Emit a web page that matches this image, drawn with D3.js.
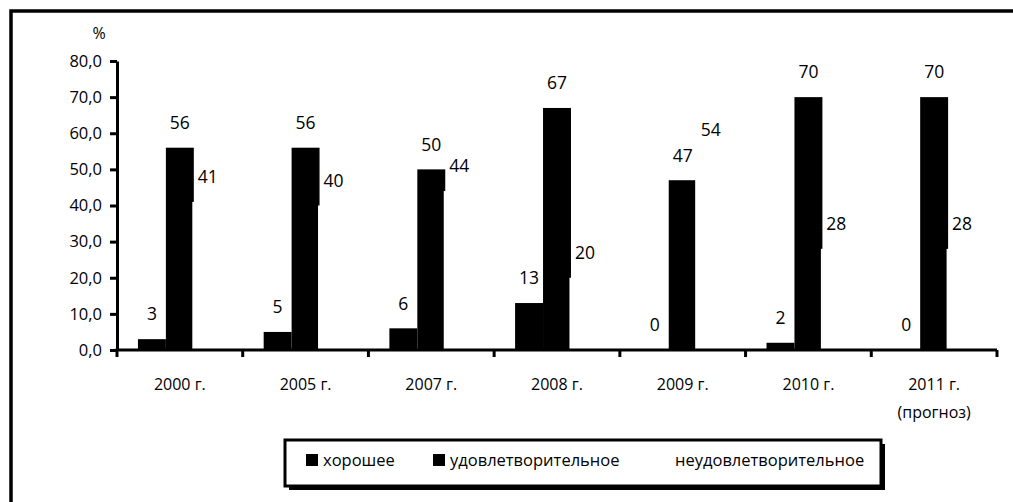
<!DOCTYPE html>
<html>
<head>
<meta charset="utf-8">
<script src="https://cdn.jsdelivr.net/npm/d3@7"></script>
<style>
  html, body { margin: 0; background: #fff; overflow: hidden; }
  svg { display: block; font-family: 'Open Sans', sans-serif; }
</style>
</head>
<body>
<svg class="chart" width="1013" height="502"></svg>
<script>
'use strict';

const years = ['2000 г.', '2005 г.', '2007 г.', '2008 г.', '2009 г.', '2010 г.', '2011 г.\n(прогноз)'];
const series = ['хорошее', 'удовлетворительное', 'неудовлетворительное'];
const good = [3, 5, 6, 13, 0, 2, 0];
const satisfactory = [56, 56, 50, 67, 47, 70, 70];
const unsatisfactory = [41, 40, 44, 20, 54, 28, 28];
const yTicks = [0, 10, 20, 30, 40, 50, 60, 70, 80];
const seriesColor = ['#000', '#000', '#fff'];

const values = [good, satisfactory, unsatisfactory];

const svg = d3.select('svg.chart');

// outer frame: only the left and top edges fall inside the picture
svg.append('path')
  .attr('d', 'M11,520V11H1030')
  .attr('fill', 'none')
  .attr('stroke', '#000')
  .attr('stroke-width', 3.5);

const x0 = d3.scaleBand().domain(years).range([117, 997]);
const x1 = d3.scaleBand().domain(series)
  .range([0, x0.bandwidth()])
  .paddingInner(0)
  .paddingOuter(0.75);
const y = d3.scaleLinear().domain([0, 80]).range([350, 61]);

const rows = years.map((yr, i) => ({
  year: yr,
  items: series.map((s, j) => ({ s: s, j: j, v: values[j][i] }))
}));

const groups = svg.append('g').selectAll('g')
  .data(rows)
  .enter()
  .append('g')
  .attr('transform', (d) => 'translate(' + x0(d.year) + ',0)');

groups.selectAll('rect')
  .data((d) => d.items)
  .enter()
  .append('rect')
  .attr('x', (d) => x1(d.s) - (d.j === 2 ? 1.5 : 0))
  .attr('y', (d) => y(d.v))
  .attr('width', x1.bandwidth())
  .attr('height', (d) => y(0) - y(d.v))
  .attr('fill', (d) => seriesColor[d.j]);

groups.selectAll('text')
  .data((d) => d.items)
  .enter()
  .append('text')
  .attr('x', (d) => x1(d.s) + x1.bandwidth() / 2)
  .attr('y', (d) => y(d.v) - 25)
  .attr('dy', '0.36em')
  .attr('text-anchor', 'middle')
  .attr('font-size', 17.5)
  .text((d) => d.v);

// y axis
const yAxis = svg.append('g')
  .attr('transform', 'translate(117,0)')
  .call(d3.axisLeft(y)
    .tickValues(yTicks)
    .tickSize(7)
    .tickSizeOuter(0)
    .tickPadding(8)
    .tickFormat((d) => d3.format('.1f')(d).replace('.', ',')));
yAxis.selectAll('path, line').attr('stroke', '#000').attr('stroke-width', 3);
yAxis.selectAll('text').attr('font-size', 16.5).attr('fill', '#000')
  .attr('font-family', "'Open Sans', sans-serif");

svg.append('text')
  .attr('x', 99).attr('y', 33)
  .attr('dy', '0.36em')
  .attr('text-anchor', 'middle')
  .attr('font-size', 16)
  .text('%');

// x axis: line, ticks between categories, labels
const xAxis = svg.append('g')
  .attr('transform', 'translate(0,350)');
xAxis.append('line')
  .attr('x1', 115.5).attr('x2', 997)
  .attr('stroke', '#000').attr('stroke-width', 3);
xAxis.selectAll('line.tick')
  .data(years.map((d) => x0(d)).concat([x0.range()[1]]))
  .enter()
  .append('line')
  .attr('class', 'tick')
  .attr('x1', (d) => d).attr('x2', (d) => d)
  .attr('y1', 0).attr('y2', 7)
  .attr('stroke', '#000').attr('stroke-width', 3);

const xLabels = xAxis.selectAll('text')
  .data(years)
  .enter()
  .append('text')
  .attr('x', (d) => x0(d) + x0.bandwidth() / 2)
  .attr('y', 40)
  .attr('text-anchor', 'middle')
  .attr('font-size', 16);
xLabels.selectAll('tspan')
  .data((d) => d.split('\n'))
  .enter()
  .append('tspan')
  .attr('x', function () { return this.parentNode.getAttribute('x'); })
  .attr('dy', (d, i) => i === 0 ? 0 : 28)
  .text((d) => d);

// legend
const legend = svg.append('g').attr('transform', 'translate(285,440)');
legend.append('rect')
  .attr('x', 4).attr('y', 4)
  .attr('width', 596).attr('height', 46)
  .attr('fill', '#000');
legend.append('rect')
  .attr('width', 596).attr('height', 46)
  .attr('fill', '#fff')
  .attr('stroke', '#000')
  .attr('stroke-width', 3);

const legendX = [21, 148, 373];
const items = legend.selectAll('g.item')
  .data(series)
  .enter()
  .append('g')
  .attr('class', 'item')
  .attr('transform', (d, i) => 'translate(' + legendX[i] + ',0)');
items.append('rect')
  .attr('y', 14).attr('width', 12).attr('height', 12)
  .attr('fill', (d, i) => seriesColor[i]);
items.append('text')
  .attr('x', 17).attr('y', 21)
  .attr('dy', '0.32em')
  .attr('font-size', 16.5)
  .text((d) => d);
</script>
</body>
</html>
